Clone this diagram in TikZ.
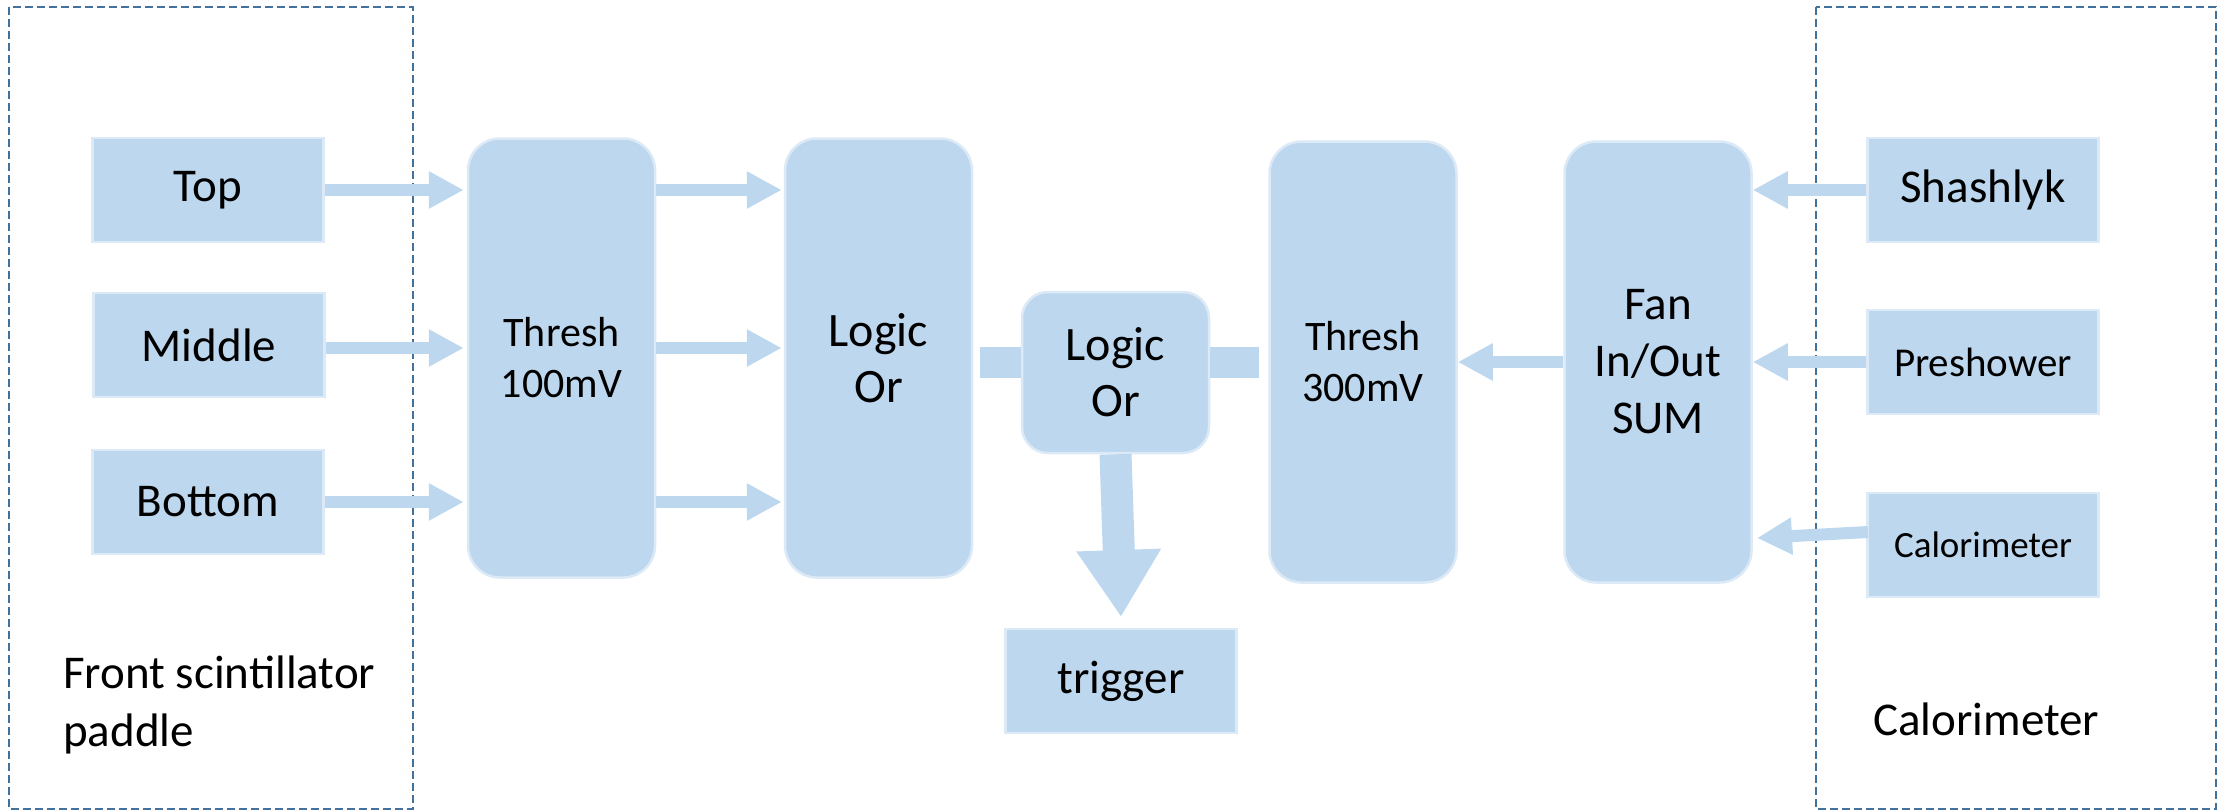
\documentclass[tikz,border=0pt]{standalone}
\usepackage{fontspec}
\setmainfont{Carlito}
\usetikzlibrary{arrows.meta}

\definecolor{blockfill}{HTML}{BDD7EE}
\definecolor{blockedge}{HTML}{DCE9F6}
\definecolor{groupedge}{HTML}{41719C}

\tikzset{
  x=1pt, y=-1pt,
  block/.style={fill=blockfill, draw=blockedge, line width=2.5pt, inner sep=0pt,
    align=center, text=black},
  srcbox/.style={block, minimum width=231pt, minimum height=104pt,
    font=\fontsize{47}{57}\selectfont},
  unit/.style={block, rounded corners=32pt, minimum width=187pt, minimum height=439pt},
  group/.style={draw=groupedge, line width=2pt, dash pattern=on 8pt off 4pt},
  flow/.style={draw=blockfill, line width=12pt,
    -{Triangle[width=35pt, length=35pt]}},
  stub/.style={draw=blockfill, line width=31pt},
  bigflow/.style={draw=blockfill, line width=32pt,
    -{Triangle[width=80pt, length=67pt]}},
}

\begin{document}
\begin{tikzpicture}
\useasboundingbox (0,0) rectangle (2218,811);

% Detector groups
\draw[group] (9,7) rectangle (413,809);
\draw[group] (1816,7) rectangle (2216,809);
% the base anchor of a two-line node sits on its last line
\node[anchor=base west, align=left, font=\fontsize{47}{58}\selectfont, inner sep=0pt]
  (frontlbl) at (63,746) {Front scintillator\\paddle};
\node[anchor=base west, font=\fontsize{47}{57}\selectfont, inner sep=0pt]
  (calolbl) at (1873,735) {Calorimeter};

% Paddle channels
\node[srcbox] (top) at (208,190) {Top};
\node[srcbox] (mid) at (209,345) {Middle};
\node[srcbox] (bot) at (208,502) {Bottom};

% Calorimeter channels
\node[srcbox] (shash) at (1983,190) {Shashlyk};
\node[srcbox, font=\fontsize{41}{50}\selectfont] (presh) at (1983,362) {Preshower};
\node[srcbox, font=\fontsize{37}{45}\selectfont] (calo) at (1983,545) {Calorimeter};

% Processing units
\node[unit, font=\fontsize{42}{51}\selectfont] (thr1) at (561.5,358) {Thresh\\100mV};
\node[unit, font=\fontsize{48}{56}\selectfont] (lor1) at (878.5,358) {Logic\\Or};
\node[block, rounded corners=26pt, minimum width=187pt, minimum height=161pt,
  font=\fontsize{48}{56}\selectfont] (lor2) at (1115.5,372.5) {Logic\\Or};
\node[unit, minimum height=441pt, font=\fontsize{42}{51}\selectfont] (thr3) at (1363,362) {Thresh\\300mV};
\node[unit, minimum height=441pt, font=\fontsize{47}{57}\selectfont] (fan) at (1658,362) {Fan\\In/Out\\SUM};
\node[srcbox] (trig) at (1121,681) {trigger};

% Paddle signals into the 100 mV discriminator
\draw[flow, shorten >=3pt] (top.east) -- (top.east -| thr1.west);
\draw[flow, shorten >=3pt] (mid.east |- 0,348) -- (thr1.west |- 0,348);
\draw[flow, shorten >=3pt] (bot.east) -- (bot.east -| thr1.west);

% Discriminator outputs into the first OR
\draw[flow, shorten >=2pt] (thr1.east |- 0,190) -- (lor1.west |- 0,190);
\draw[flow, shorten >=2pt] (thr1.east |- 0,348) -- (lor1.west |- 0,348);
\draw[flow, shorten >=2pt] (thr1.east |- 0,502) -- (lor1.west |- 0,502);

% Calorimeter signals into the summing fan
\draw[flow] (shash.west) -- (shash.west -| fan.east);
\draw[flow] (presh.west) -- (presh.west -| fan.east);
\coordinate (caloin) at (1868,532);
\coordinate (fanin) at (1757,538);
\draw[flow] (caloin) -- (fanin);

% Sum into the 300 mV discriminator
\draw[flow] (fan.west) -- (fan.west -| thr3.east);

% Short links on either side of the final OR
\coordinate (linkl) at (980,362.5);
\coordinate (linkr) at (1259,362.5);
\draw[stub] (linkl) -- (linkl -| lor2.west);
\draw[stub] (lor2.east |- linkr) -- (linkr);

% Final OR drives the trigger
\coordinate (trigtip) at (1121,617);
\draw[bigflow] (lor2.south) -- (trigtip);
\end{tikzpicture}
\end{document}
